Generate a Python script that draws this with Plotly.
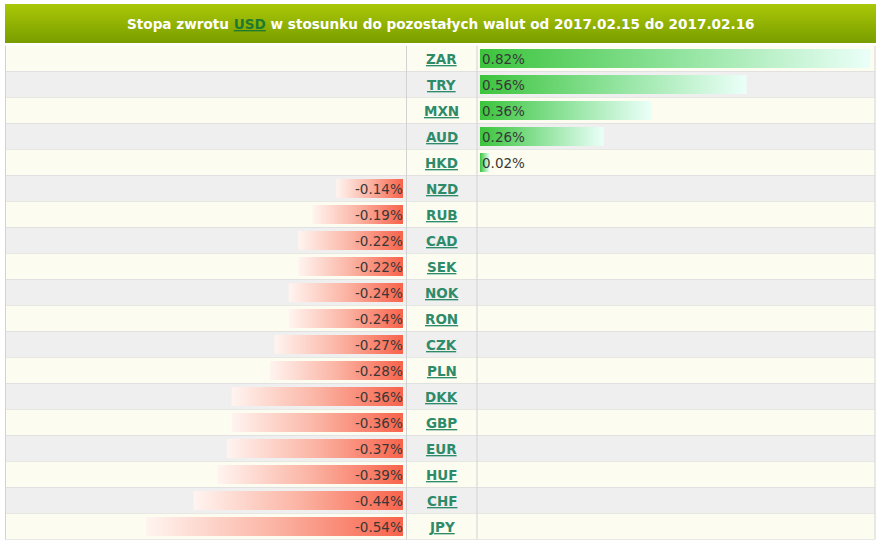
import plotly.graph_objects as go

# currency codes, top to bottom, and the USD rate of return against each (%)
currencies = ["ZAR", "TRY", "MXN", "AUD", "HKD", "NZD", "RUB", "CAD", "SEK", "NOK",
              "RON", "CZK", "PLN", "DKK", "GBP", "EUR", "HUF", "CHF", "JPY"]
returns = [0.82, 0.56, 0.36, 0.26, 0.02, -0.14, -0.19, -0.22, -0.22, -0.24,
           -0.24, -0.27, -0.28, -0.36, -0.36, -0.37, -0.39, -0.44, -0.54]

title_base = "USD"
date_from = "2017.02.15"
date_to = "2017.02.16"

W, H = 881, 548
FONT = "DejaVu Sans"


def px_x(p):
    return p / W


def px_y(p):
    return 1 - p / H


n = len(currencies)
row_top, row_h = 45.5, 26
row_bottom = row_top + n * row_h
half = 0.37

fig = go.Figure()

pos_scale = [[0, "#3cc43c"], [0.5, "#8fe39c"], [1, "#ebfff9"]]
neg_scale = [[0, "#fff4f0"], [0.5, "#fbb4a4"], [1, "#f8634b"]]

for i, (cur, val) in enumerate(zip(currencies, returns)):
    x0, x1 = (0, val)
    xs = [x0, x1, x1, x0, x0]
    ys = [i - half, i - half, i + half, i + half, i - half]
    fig.add_trace(go.Scatter(
        x=xs, y=ys, fill="toself", mode="lines",
        line=dict(width=0),
        fillgradient=dict(type="horizontal", colorscale=pos_scale if val > 0 else neg_scale),
        xaxis="x2" if val > 0 else "x",
        yaxis="y",
        hoverinfo="skip", showlegend=False,
    ))

shapes = []
# header gradient
top_col = (170, 200, 8)
bot_col = (122, 158, 0)
h0, h1 = 4, 43
for k in range(h1 - h0):
    t = k / (h1 - h0 - 1)
    c = tuple(int(a + (b - a) * t) for a, b in zip(top_col, bot_col))
    shapes.append(dict(type="rect", xref="paper", yref="paper",
                       x0=px_x(5), x1=px_x(876),
                       y0=px_y(h0 + k + 1), y1=px_y(h0 + k),
                       fillcolor="rgb(%d,%d,%d)" % c, line=dict(width=0), layer="below"))

# row backgrounds
for i in range(n):
    shapes.append(dict(type="rect", xref="paper", yref="y",
                       x0=px_x(5), x1=px_x(875), y0=i - 0.5, y1=i + 0.5,
                       fillcolor="#fcfdf0" if i % 2 == 0 else "#efefef",
                       line=dict(width=0), layer="below"))
    shapes.append(dict(type="line", xref="paper", yref="y",
                       x0=px_x(5), x1=px_x(875), y0=i + 0.5, y1=i + 0.5,
                       line=dict(color="#d2d2d2", width=1), layer="below"))
# column separators
for xp in (5.5, 406.5, 477, 875):
    shapes.append(dict(type="line", xref="paper", yref="y",
                       x0=px_x(xp), x1=px_x(xp), y0=-0.5, y1=n - 0.5,
                       line=dict(color="#d2d2d2", width=1), layer="below"))

annotations = [dict(
    xref="paper", yref="paper", x=px_x(441), y=px_y(24),
    text=("<b>Stopa zwrotu <span style='color:#1e7a2e'><u>%s</u></span> "
          "w stosunku do pozostałych walut od %s do %s</b>") % (title_base, date_from, date_to),
    showarrow=False, font=dict(family=FONT, size=13.6, color="white"),
    xanchor="center", yanchor="middle",
)]

for i, (cur, val) in enumerate(zip(currencies, returns)):
    annotations.append(dict(
        xref="paper", yref="y", x=px_x(441.5), y=i,
        text="<b><u>%s</u></b>" % cur, showarrow=False,
        font=dict(family=FONT, size=13.5, color="#2e8b6a"),
        xanchor="center", yanchor="middle",
    ))
    label = "%.2f%%" % val
    if val > 0:
        annotations.append(dict(xref="x2", yref="y", x=0, y=i, text=label,
                                showarrow=False, xanchor="left", yanchor="middle", xshift=0,
                                font=dict(family=FONT, size=13.5, color="#383838")))
    else:
        annotations.append(dict(xref="x", yref="y", x=0, y=i, text=label,
                                showarrow=False, xanchor="right", yanchor="middle", xshift=2,
                                font=dict(family=FONT, size=13.5, color="#383838")))

px_per_pct = 476
fig.update_layout(
    width=W, height=H,
    margin=dict(l=0, r=0, t=0, b=0),
    paper_bgcolor="white", plot_bgcolor="rgba(0,0,0,0)",
    xaxis=dict(domain=[px_x(5), px_x(403)], range=[-(403 - 5) / px_per_pct, 0],
               visible=False, fixedrange=True),
    xaxis2=dict(domain=[px_x(480), px_x(875)], range=[0, (875 - 480) / px_per_pct],
                visible=False, fixedrange=True),
    yaxis=dict(domain=[px_y(row_bottom), px_y(row_top)], range=[n - 0.5, -0.5],
               visible=False, fixedrange=True),
    shapes=shapes,
    annotations=annotations,
    showlegend=False,
)

fig.write_html("out.html", config={"displayModeBar": False},
               post_script="document.body.style.margin='0';")
